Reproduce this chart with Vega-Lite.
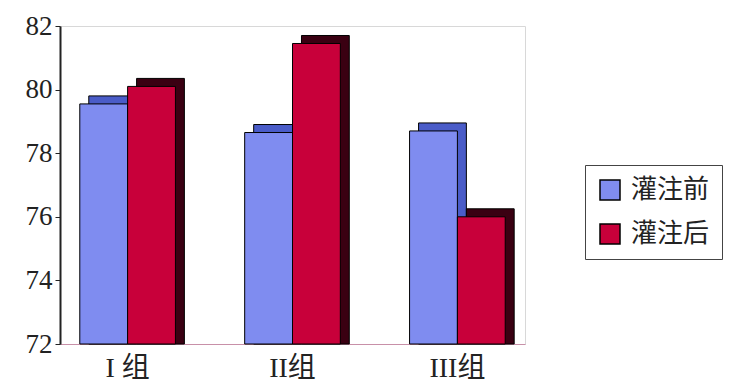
{
  "$schema": "https://vega.github.io/schema/vega-lite/v6.json",
  "autosize": "none",
  "width": 465,
  "height": 318,
  "padding": {"left": 60, "top": 26, "right": 209, "bottom": 47},
  "background": "white",
  "config": {"view": {"stroke": "#d8d8d8"}},
  "data": {
    "values": [
      {"group": "I 组", "series": "灌注前", "value": 79.55},
      {"group": "I 组", "series": "灌注后", "value": 80.1},
      {"group": "II组", "series": "灌注前", "value": 78.65},
      {"group": "II组", "series": "灌注后", "value": 81.45},
      {"group": "III组", "series": "灌注前", "value": 78.7},
      {"group": "III组", "series": "灌注后", "value": 76.0}
    ]
  },
  "encoding": {
    "x": {
      "field": "group", "type": "nominal", "sort": ["I 组", "II组", "III组"],
      "scale": {"paddingInner": 0.42, "paddingOuter": 0.12},
      "axis": {"title": null, "labelAngle": 0, "labelFont": "Liberation Serif, Noto Sans CJK SC", "labelFontSize": 28, "labelColor": "#222", "labelPadding": 10, "domainColor": "#c890a8", "ticks": false}
    },
    "y": {
      "field": "value", "type": "quantitative",
      "scale": {"domain": [72, 82], "zero": false, "nice": false},
      "axis": {"title": null, "values": [72, 74, 76, 78, 80, 82], "grid": false, "labelFont": "Liberation Serif", "labelFontSize": 27, "labelColor": "#222", "domainColor": "#222", "domainWidth": 2, "tickColor": "#222", "tickSize": 5, "labelPadding": 3}
    },
    "y2": {"datum": 72}
  },
  "layer": [
    {
      "mark": {"type": "bar", "yOffset": -8, "stroke": "black", "strokeWidth": 1},
      "encoding": {
        "xOffset": {"field": "series", "type": "nominal", "sort": ["灌注前", "灌注后"], "scale": {"range": [9, 104.6]}},
        "color": {"field": "series", "type": "nominal", "legend": null,
          "scale": {"domain": ["灌注前", "灌注后"], "range": ["#4a5cc8", "#3a0012"]}}
      }
    },
    {
      "mark": {"type": "bar", "stroke": "black", "strokeWidth": 1},
      "encoding": {
        "xOffset": {"field": "series", "type": "nominal", "sort": ["灌注前", "灌注后"]},
        "color": {"field": "series", "type": "nominal",
          "scale": {"domain": ["灌注前", "灌注后"], "range": ["#7f8cf0", "#c8003a"]},
          "legend": {"title": null, "orient": "none", "legendX": 525, "legendY": 139,
            "symbolType": "square", "symbolSize": 400, "symbolStrokeColor": "black", "symbolStrokeWidth": 1.5,
            "labelFont": "Noto Sans CJK SC", "labelFontSize": 26, "labelColor": "#222",
            "strokeColor": "#444", "padding": 12, "rowPadding": 18, "labelOffset": 8}
        }
      }
    }
  ],
  "resolve": {"scale": {"color": "independent", "xOffset": "independent"}, "legend": {"color": "independent"}}
}
